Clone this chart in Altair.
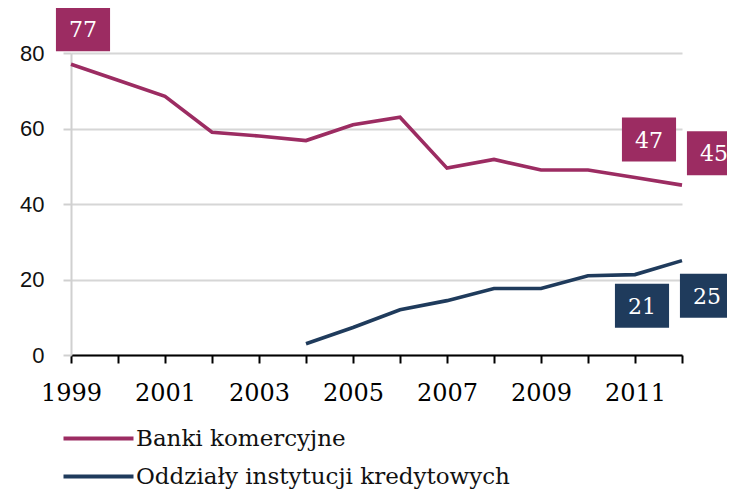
import altair as alt
import pandas as pd

years = list(range(1999, 2013))
banki = [77, 72.8, 68.5, 59, 58, 56.8, 61, 63, 49.5, 51.8, 49, 49, 47, 45]
oddzialy = [None, None, None, None, None, 3, 7.3, 12, 14.4, 17.6, 17.6, 21, 21.3, 25]

series_names = ["Banki komercyjne", "Oddziały instytucji kredytowych"]
series_colors = ["#9C2C62", "#1F3B5C"]

label_years = [1999, 2011, 2012, 2011, 2012]
label_values = [77, 47, 45, 21, 25]
label_series = [0, 0, 0, 1, 1]
label_dx = [12, 14, 32, 7, 25]
label_dy = [-35, -38, -32, 30, 35]

rows = []
for y, b, o in zip(years, banki, oddzialy):
    rows.append({"year": y, "value": b, "series": series_names[0]})
    if o is not None:
        rows.append({"year": y, "value": o, "series": series_names[1]})
df = pd.DataFrame(rows)

x_enc = alt.X(
    "year:Q",
    scale=alt.Scale(domain=[1999, 2012], nice=False, zero=False),
    axis=alt.Axis(
        title=None,
        values=years,
        format="d",
        labelExpr="datum.value % 2 == 1 ? datum.label : ''",
        labelOverlap=False,
        labelFlush=False,
        grid=False,
        domainColor="#000000",
        domainWidth=2,
        tickColor="#000000",
        tickWidth=2,
        tickSize=8,
        labelFont="DejaVu Serif",
        labelFontSize=24,
        labelColor="#000000",
        labelPadding=18,
    ),
)
y_enc = alt.Y(
    "value:Q",
    scale=alt.Scale(domain=[0, 80], nice=False),
    axis=alt.Axis(
        title=None,
        values=[0, 20, 40, 60, 80],
        grid=True,
        gridColor="#d6d6d6",
        gridWidth=2,
        domainColor="#d0d0d0",
        domainWidth=2,
        tickColor="#d0d0d0",
        tickWidth=2,
        tickSize=8,
        labelFont="Liberation Sans",
        labelFontSize=22,
        labelColor="#111111",
        labelPadding=19,
    ),
)

lines = alt.Chart(df).mark_line(strokeWidth=3.6).encode(
    x=x_enc,
    y=y_enc,
    color=alt.Color(
        "series:N",
        scale=alt.Scale(domain=series_names, range=series_colors),
        legend=alt.Legend(
            title=None,
            orient="none",
            legendX=8,
            legendY=366,
            direction="vertical",
            symbolType="M-2,0L2,0",
            symbolSize=1225,
            symbolStrokeWidth=4,
            labelFont="DejaVu Serif",
            labelFontSize=23,
            labelColor="#111111",
            rowPadding=6,
            labelOffset=18,
            padding=0,
            labelLimit=0,
        ),
    ),
)

box_shape = "M-1.23,-1L1.23,-1L1.23,1L-1.23,1Z"
layers = [lines]
for yr, val, s, dx, dy in zip(label_years, label_values, label_series, label_dx, label_dy):
    ldf = pd.DataFrame({"year": [yr], "value": [val], "txt": [str(val)]})
    box = alt.Chart(ldf).mark_point(
        shape=box_shape, size=1936, filled=True, opacity=1,
        color=series_colors[s], xOffset=dx, yOffset=dy,
    ).encode(x="year:Q", y="value:Q")
    txt = alt.Chart(ldf).mark_text(
        font="DejaVu Serif", fontSize=22, color="#ffffff",
        xOffset=dx, yOffset=dy + 1, baseline="middle", align="center",
    ).encode(x="year:Q", y="value:Q", text="txt:N")
    layers += [box, txt]

chart = alt.layer(*layers).properties(
    width=611,
    height=302,
    autosize=alt.AutoSizeParams(type="none"),
    padding={"left": 63, "top": 45, "right": 45, "bottom": 134},
).configure_view(stroke=None)

chart.save("out.html", embed_options={"renderer": "svg", "actions": False})
